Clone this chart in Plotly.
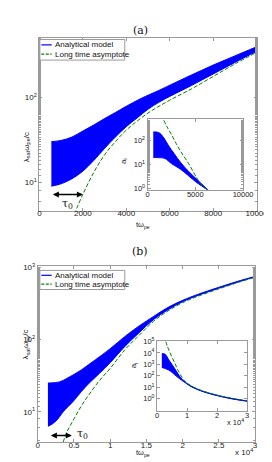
import numpy as np
import plotly.graph_objects as go

# ---------------- data ----------------
# panel (a) main: lambda_sat * omega_pe / c
a_x_up = [550, 1000, 1500, 2000, 2500, 3000, 3500, 4000, 4700, 5500, 6000, 7000, 8000, 9000, 10000]
a_up   = [30, 31, 34, 40, 47, 56, 66, 78, 97, 120, 138, 182, 238, 305, 390]
a_x_lo = [550, 1000, 1500, 2000, 2500, 3000, 3500, 4000, 4500, 5000, 5500, 6000, 7000, 8000, 9000, 10000]
a_lo   = [9.0, 9.6, 11, 13.5, 18, 25, 34, 45, 57, 72, 87, 102, 137, 187, 255, 345]
a_x_as = [1600, 2000, 2500, 3000, 3500, 4000, 5000, 6000, 7000, 8000, 9000, 10000]
a_as   = [4.2, 7.2, 13, 21, 30, 41, 65, 92, 125, 175, 245, 335]
a_tau  = [550, 2000]

# panel (a) inset: a_i
ai_x_up = [600, 1000, 1300, 1700, 2150, 2800, 3480, 4300, 5130, 6290]
ai_up   = [230, 225, 200, 130, 66, 28, 12, 5.2, 2.5, 0.9]
ai_x_lo = [600, 1000, 1820, 2500, 3480, 4300, 5130, 6290]
ai_lo   = [20, 19.5, 18, 11, 6.3, 3.4, 1.8, 0.9]
ai_x_as = [1700, 2000, 2500, 3000, 3480, 4300, 5130, 5800, 6450]
ai_as   = [700, 400, 180, 75, 35, 11, 2.9, 1.2, 0.83]

# panel (b) main
b_x_up = [1400, 3000, 4000, 5000, 6000, 7000, 8000, 10000, 12000, 14000, 16000, 18000, 20000, 22000, 25000, 28000, 30000]
b_up   = [25, 26, 29, 33, 38, 45, 53, 75, 110, 155, 210, 280, 350, 420, 530, 660, 750]
b_x_lo = [1400, 2000, 2700, 3500, 4900, 6000, 7100, 8500, 10000, 12000, 14000, 16000, 18000, 20000, 22000, 25000, 28000, 30000]
b_lo   = [6.3, 6.8, 7.8, 10, 14, 19, 25, 34, 48, 80, 125, 190, 260, 335, 405, 515, 645, 740]
b_x_as = [3500, 4000, 5000, 6000, 7100, 8500, 10000, 12000, 14000, 16000, 18000, 20000, 22000, 25000, 28000, 30000]
b_as   = [3.8, 5.2, 8, 12, 17.5, 27, 40, 72, 115, 180, 250, 325, 395, 505, 635, 730]
b_tau  = [1600, 4700]

# panel (b) inset
bi_x_up = [1600, 2600, 4000, 5800, 7900, 9000, 11000, 13200, 16000, 20000, 25000, 30000]
bi_up   = [8500, 8000, 2300, 460, 66, 33, 14, 7.2, 3.8, 1.95, 1.0, 0.62]
bi_x_lo = [1600, 3000, 4500, 5800, 7500, 9000, 11000, 13200, 16000, 20000, 25000, 30000]
bi_lo   = [530, 400, 250, 126, 55, 29, 12.5, 6.6, 3.5, 1.8, 0.93, 0.58]
bi_x_as = [2900, 3500, 4500, 5800, 7000, 9000, 11000, 13200, 16000, 20000, 25000, 30000]
bi_as   = [1e5, 3.5e4, 8000, 1500, 300, 40, 15, 7.5, 4, 2, 1.05, 0.65]

# tick labels
a_xt = [0, 2000, 4000, 6000, 8000, 10000]
ai_xt = [0, 5000, 10000]
b_xt = [0, 5000, 10000, 15000, 20000, 25000, 30000]
b_xt_lbl = ["0", "0.5", "1", "1.5", "2", "2.5", "3"]
bi_xt = [0, 10000, 20000, 30000]
bi_xt_lbl = ["0", "1", "2", "3"]
a_yt = [1, 2]
ai_yt = [0, 1, 2]
b_yt = [1, 2, 3]
bi_yt = [0, 1, 2, 3, 4, 5]

names = ["Analytical model", "Long time asymptote"]
BLUE = "#0000ff"
GREEN = "#008000"
FONT = "Liberation Sans, Arial, sans-serif"
SERIF = "DejaVu Serif, Liberation Serif, serif"
TXT = "#222222"

fig = go.Figure()

def band(xlo, ylo, xup, yup, xa, ya):
    fig.add_trace(go.Scatter(x=xlo, y=ylo, mode="lines", line=dict(color=BLUE, width=1, shape="spline"),
                             name=names[0], showlegend=False, xaxis=xa, yaxis=ya))
    fig.add_trace(go.Scatter(x=xup, y=yup, mode="lines", line=dict(color=BLUE, width=1, shape="spline"),
                             fill="tonexty", fillcolor=BLUE, name=names[0], showlegend=False, xaxis=xa, yaxis=ya))

def asym(x, y, xa, ya):
    fig.add_trace(go.Scatter(x=x, y=y, mode="lines", line=dict(color=GREEN, width=1, dash="4px,2px", shape="spline"),
                             name=names[1], showlegend=False, xaxis=xa, yaxis=ya))

band(a_x_lo, a_lo, a_x_up, a_up, "x", "y")
asym(a_x_as, a_as, "x", "y")
band(ai_x_lo, ai_lo, ai_x_up, ai_up, "x2", "y2")
asym(ai_x_as, ai_as, "x2", "y2")
band(b_x_lo, b_lo, b_x_up, b_up, "x3", "y3")
asym(b_x_as, b_as, "x3", "y3")
band(bi_x_lo, bi_lo, bi_x_up, bi_up, "x4", "y4")
asym(bi_x_as, bi_as, "x4", "y4")

W, H = 272, 462
def px(x0, x1):
    return [x0 / W, x1 / W]
def py(top, bot):
    return [1 - bot / H, 1 - top / H]
def PX(x):
    return x / W
def PY(y):
    return 1 - y / H

LC = "#9a9a9a"
def common(size, so=0):
    return dict(showline=True, mirror="ticks", linecolor=LC, linewidth=1, ticks="inside", ticklen=3,
                tickcolor=LC, showgrid=False, zeroline=False, ticklabelstandoff=so,
                tickfont=dict(family=FONT, size=size, color=TXT))
minor = dict(ticks="inside", ticklen=2, tickcolor=LC, showgrid=False)

def sup(v):
    return ["10<sup>%d</sup>" % e for e in v]

fig.update_layout(
    width=W, height=H, margin=dict(l=0, r=0, t=0, b=0),
    paper_bgcolor="white", plot_bgcolor="white", showlegend=False,
    xaxis=dict(domain=px(31, 260), range=[0, 10000], anchor="y", tickvals=a_xt,
               ticktext=[str(v) for v in a_xt], **common(8, -5)),
    yaxis=dict(domain=py(24, 200.7), type="log", range=[0.665, 2.70], anchor="x",
               tickvals=[10 ** e for e in a_yt], ticktext=sup(a_yt), minor=minor, **common(8)),
    xaxis2=dict(domain=px(145, 245.7), range=[0, 10000], anchor="y2", tickvals=ai_xt,
                ticktext=[str(v) for v in ai_xt], **common(7.5, -3)),
    yaxis2=dict(domain=py(107.3, 180), type="log", range=[-0.08, 2.89], anchor="x2",
                tickvals=[10 ** e for e in ai_yt], ticktext=sup(ai_yt), minor=minor, **common(7.5)),
    xaxis3=dict(domain=px(29.3, 258.3), range=[0, 30000], anchor="y3",
                tickvals=b_xt, ticktext=b_xt_lbl, **common(8, -5)),
    yaxis3=dict(domain=py(257, 436.7), type="log", range=[0.58, 3.02], anchor="x3",
                tickvals=[10 ** e for e in b_yt], ticktext=sup(b_yt), minor=minor, **common(8)),
    xaxis4=dict(domain=px(155, 250), range=[0, 30000], anchor="y4",
                tickvals=bi_xt, ticktext=bi_xt_lbl, **common(7.5, -3)),
    yaxis4=dict(domain=py(334, 405), type="log", range=[-1.1, 5.0], anchor="x4",
                tickvals=[10 ** e for e in bi_yt], ticktext=sup(bi_yt), **common(7.5)),
)

ann = []
shapes = []
# panel titles
ann.append(dict(text="(a)", x=PX(138), y=PY(8), xref="paper", yref="paper", showarrow=False,
                font=dict(family=SERIF, size=11, color="#111")))
ann.append(dict(text="(b)", x=PX(137), y=PY(242), xref="paper", yref="paper", showarrow=False,
                font=dict(family=SERIF, size=11, color="#111")))
# axis titles
for (x, y) in [(140, 215.5), (140, 454.5)]:
    ann.append(dict(text="tω<sub>pe</sub>", x=PX(x), y=PY(y), xref="paper", yref="paper", showarrow=False,
                    font=dict(family=FONT, size=7.5, color=TXT)))
for (x, y) in [(10, 118), (10, 354)]:
    ann.append(dict(text="λ<sub>sat</sub>ω<sub>pe</sub>/c", x=PX(x), y=PY(y), xref="paper", yref="paper",
                    showarrow=False, textangle=-90, font=dict(family=FONT, size=8, color=TXT)))
for (x, y) in [(120, 145), (131, 363)]:
    ann.append(dict(text="a<sub>i</sub>", x=PX(x), y=PY(y), xref="paper", yref="paper",
                    showarrow=False, textangle=-90, font=dict(family=FONT, size=8, color=TXT)))
# x 10^4 multipliers
ann.append(dict(text="x 10<sup>4</sup>", x=PX(258), y=PY(454), xref="paper", yref="paper", showarrow=False,
                xanchor="right", font=dict(family=FONT, size=8, color=TXT)))
ann.append(dict(text="x 10<sup>4</sup>", x=PX(249), y=PY(423), xref="paper", yref="paper", showarrow=False,
                xanchor="right", font=dict(family=FONT, size=7.5, color=TXT)))

# tau0 arrows
ya = float(np.log10(7.2))
ann.append(dict(x=a_tau[1], y=ya, ax=a_tau[0], ay=ya, xref="x", yref="y", axref="x", ayref="y",
                showarrow=True, arrowhead=2, startarrowhead=2, arrowside="end+start", arrowsize=0.8,
                arrowwidth=1.5, arrowcolor="black", text=""))
ann.append(dict(x=(a_tau[0] + a_tau[1]) / 2, y=float(np.log10(5.6)), xref="x", yref="y", showarrow=False,
                text="τ<sub>0</sub>", font=dict(family=SERIF, size=11, color="#111")))
yb = float(np.log10(4.7))
ann.append(dict(x=b_tau[1], y=yb, ax=b_tau[0], ay=yb, xref="x3", yref="y3", axref="x3", ayref="y3",
                showarrow=True, arrowhead=2, startarrowhead=2, arrowside="end+start", arrowsize=0.8,
                arrowwidth=1.5, arrowcolor="black", text=""))
ann.append(dict(x=b_tau[1] + 400, y=float(np.log10(4.9)), xref="x3", yref="y3", showarrow=False, xanchor="left",
                text="τ<sub>0</sub>", font=dict(family=SERIF, size=11, color="#111")))

# legends (drawn as boxes with line samples and labels)
for (top, bot, r1, r2) in [(26, 47, 31.5, 41), (261.5, 281, 266.5, 275.5)]:
    shapes.append(dict(type="rect", xref="paper", yref="paper", x0=PX(31.5), x1=PX(121), y0=PY(bot), y1=PY(top),
                       line=dict(color=LC, width=1), fillcolor="white", layer="above"))
    shapes.append(dict(type="line", xref="paper", yref="paper", x0=PX(33), x1=PX(44), y0=PY(r1), y1=PY(r1),
                       line=dict(color=BLUE, width=1.2), layer="above"))
    shapes.append(dict(type="line", xref="paper", yref="paper", x0=PX(33), x1=PX(44), y0=PY(r2), y1=PY(r2),
                       line=dict(color=GREEN, width=1.2, dash="3px,1.5px"), layer="above"))
    ann.append(dict(text=names[0], x=PX(45), y=PY(r1), xref="paper", yref="paper", showarrow=False,
                    xanchor="left", yanchor="middle", font=dict(family=FONT, size=8, color="#111")))
    ann.append(dict(text=names[1], x=PX(45), y=PY(r2), xref="paper", yref="paper", showarrow=False,
                    xanchor="left", yanchor="middle", font=dict(family=FONT, size=8, color="#111")))

fig.update_layout(annotations=ann, shapes=shapes)

fig.write_html("out.html")
